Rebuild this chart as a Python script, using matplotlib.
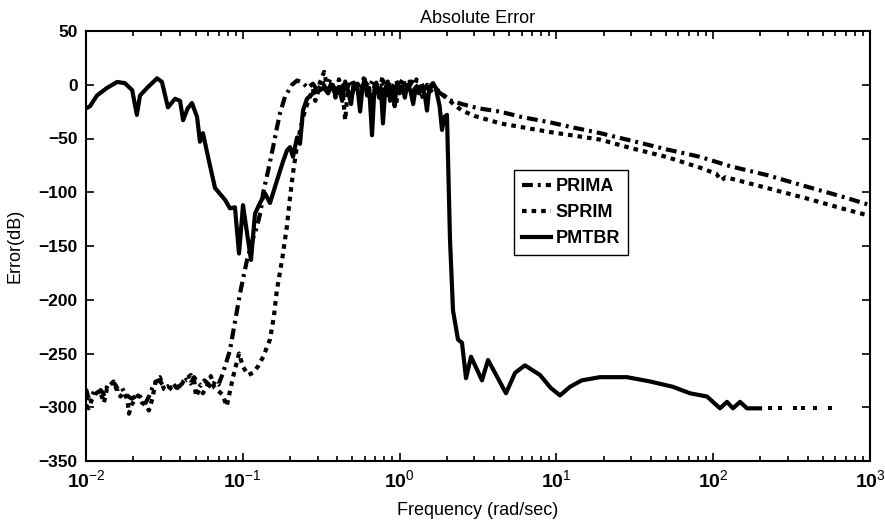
# Absolute error of the reduced models vs. frequency
import matplotlib
matplotlib.use('Agg')
import matplotlib.pyplot as plt
import numpy as np

plt.rcParams['font.family'] = ['Liberation Sans', 'DejaVu Sans']
plt.rcParams['mathtext.fontset'] = 'custom'
plt.rcParams['mathtext.rm'] = 'Liberation Sans'
plt.rcParams['mathtext.bf'] = 'Liberation Sans:bold'

# PRIMA (dash-dot)
prima_f = [0.0100, 0.0104, 0.0108, 0.0113, 0.0118, 0.0124, 0.0130, 0.0137, 0.0144, 0.0152,
           0.0160, 0.0168, 0.0177, 0.0186, 0.0196, 0.0206, 0.0217, 0.0228, 0.0240, 0.0252,
           0.0265, 0.0279, 0.0293, 0.0308, 0.0324, 0.0341, 0.0359, 0.0378, 0.0398, 0.0419,
           0.0441, 0.0464, 0.0489, 0.0514, 0.0541, 0.0569, 0.0599, 0.0631, 0.0664, 0.0700,
           0.0748, 0.0828, 0.0960, 0.1064, 0.115, 0.123, 0.130, 0.135, 0.145, 0.156,
           0.165, 0.173, 0.186, 0.206, 0.222,
           0.24, 0.26, 0.28, 0.30, 0.32, 0.34, 0.36, 0.38, 0.40, 0.42, 0.45, 0.48, 0.51, 0.54,
           0.57, 0.60, 0.64, 0.68, 0.72, 0.76, 0.80, 0.85, 0.90, 0.95, 1.0, 1.06, 1.12, 1.2,
           1.28, 1.36, 1.45, 1.55, 1.65, 1.75, 1.9, 2.04,
           2.5, 3.2, 4.37, 6.0, 9.1, 13, 19, 30, 50, 82, 130, 220, 400, 700, 1000]
prima_db = [-283, -292, -290, -285, -287, -284, -288, -280, -277, -278,
            -283, -281, -287, -290, -292, -290, -288, -293, -296, -290,
            -282, -276, -275, -279, -281, -280, -278, -282, -280, -276,
            -274, -278, -272, -277, -280, -275, -278, -282, -276, -279,
            -268, -247, -194, -163, -145, -132, -118, -100, -80, -58,
            -40, -26, -11, 0, 4,
            2, -3, 1, -6, 3, -4, 5, -2, -8, 2, -3, 4, -5, 1,
            -7, 3, -2, 5, -4, 2, -6, 3, -1, 4, -3, 2, -5, 3,
            -2, 2, -4, 1, -3, -6, -10, -14,
            -18, -22, -25, -30, -35, -40, -45, -52, -60, -67, -76, -84, -95, -105, -112]

# SPRIM (dotted)
sprim_f = [0.0100, 0.0104, 0.0109, 0.0114, 0.0121, 0.0127, 0.0130, 0.0136, 0.0143, 0.0150,
           0.0158, 0.0166, 0.0175, 0.0184, 0.0188, 0.0195, 0.0205, 0.0215, 0.0228, 0.0241,
           0.0252, 0.0265, 0.0280, 0.0296, 0.0314, 0.0333, 0.0352, 0.0372, 0.0394, 0.0417,
           0.0441, 0.0466, 0.0491, 0.0503, 0.0530, 0.0557, 0.0590, 0.0625, 0.0660, 0.0700,
           0.0740, 0.0790, 0.0866, 0.0946, 0.1000, 0.108, 0.116, 0.125, 0.135, 0.149,
           0.158, 0.165, 0.178, 0.191, 0.200, 0.209, 0.220, 0.232, 0.249, 0.268,
           0.28, 0.29, 0.30, 0.31, 0.33, 0.35, 0.37, 0.39, 0.41, 0.43, 0.45, 0.47, 0.50,
           0.53, 0.56, 0.59, 0.62, 0.66, 0.70, 0.74, 0.78, 0.82, 0.86, 0.90, 0.95, 1.0,
           1.05, 1.10, 1.16, 1.22, 1.28, 1.35, 1.42, 1.50, 1.58, 1.66, 1.75, 1.85,
           2.0, 2.2, 2.5, 3.0, 4.4, 9.1, 19, 30, 50, 82, 105, 112, 120, 220, 400, 700, 1000]
sprim_db = [-298, -301, -293, -288, -285, -291, -296, -283, -279, -276,
            -285, -290, -286, -294, -306, -298, -293, -289, -296, -298,
            -303, -292, -274, -272, -283, -285, -281, -279, -283, -276,
            -273, -270, -276, -290, -283, -287, -280, -271, -282, -285,
            -288, -299, -272, -250, -262, -270, -268, -262, -253, -237,
            -215, -191, -163, -132, -105, -82, -60, -42, -24, -11,
            -4, -15, -8, 2, 12, -6, 3, -12, 5, -2, -33, 0, -8,
            4, -10, 6, -4, -15, 3, -7, 8, -12, 2, -5, -18, 0,
            6, -6, 3, -10, 5, -2, -15, 0, -6, -2, -5, -8,
            -12, -18, -24, -29, -36, -44, -51, -59, -67, -77, -83, -89, -86, -96, -106, -116, -122]

# PMTBR (solid)
pmtbr_f = [0.0100, 0.0106, 0.01175, 0.0136, 0.0158, 0.0177, 0.0197, 0.0211, 0.0221, 0.0245,
           0.0284, 0.0305, 0.0333, 0.0370, 0.0398, 0.0416, 0.0445, 0.0474, 0.0511, 0.0533,
           0.0557, 0.0600, 0.0665, 0.0720, 0.0770, 0.0828, 0.0891, 0.0946, 0.1003, 0.1064,
           0.1128, 0.1196, 0.1287, 0.1386, 0.1491, 0.1652, 0.180, 0.1914, 0.200, 0.209,
           0.2217, 0.2317, 0.242, 0.2567, 0.2804, 0.3107,
           0.33, 0.35, 0.37, 0.39, 0.41, 0.43, 0.45, 0.47, 0.49, 0.51, 0.54, 0.56, 0.58,
           0.60, 0.62, 0.64, 0.667, 0.69, 0.71, 0.74, 0.76, 0.783, 0.81, 0.84, 0.87, 0.90,
           0.93, 0.96, 1.0, 1.04, 1.08, 1.12, 1.17, 1.22, 1.27, 1.33, 1.40, 1.45, 1.495,
           1.55, 1.633, 1.70, 1.80, 1.864, 1.93, 2.005,
           2.096, 2.191, 2.357, 2.500, 2.652, 2.854, 3.354, 3.663, 4.2, 4.77, 5.45, 6.30,
           7.86, 9.2, 10.54, 12.21, 14.5, 18.97, 28.2, 39.5, 55.4, 71.1, 91.3, 110.5,
           122.4, 133.7, 148.3, 164.3, 198.9]
pmtbr_db = [-22, -20, -10, -3, 2.6, 1.5, -5, -28, -10, -3,
            6, 2.6, -21, -13, -15, -33, -22, -17, -30, -53,
            -45, -67, -96, -102, -107, -115, -114, -157, -112, -138,
            -163, -120, -110, -101, -110, -89, -72, -61, -58, -67,
            -49, -55, -24, -13, -8, -5,
            -3, -8, 0, -10, -2, -15, 3, -6, -18, 2, -4, -25, -2,
            5, -10, -3, -47, -5, 2, -12, -3, -36, -4, 3, -15, -2,
            -20, 1, -8, -2, -12, 0, -5, -18, -2, -8, -3, -10, -24,
            -2, 1.5, -3, -20, -42, -30, -28,
            -144, -210, -237, -240, -273, -253, -275, -256, -272, -287, -268, -261,
            -270, -282, -289, -281, -275, -272, -272, -276, -281, -287, -290, -301,
            -295, -301, -295, -301, -301]

# isolated points at the end of the PMTBR curve
pmtbr_tail_f = [230, 267, 332, 374, 446, 556]
pmtbr_tail_db = [-301, -301, -301, -301, -301, -301]

xtick_pos = [1e-2, 1e-1, 1e0, 1e1, 1e2, 1e3]
xtick_lab = [r'$\mathbf{10}^{\mathrm{-2}}$', r'$\mathbf{10}^{\mathrm{-1}}$', r'$\mathbf{10}^{\mathrm{0}}$',
             r'$\mathbf{10}^{\mathrm{1}}$', r'$\mathbf{10}^{\mathrm{2}}$', r'$\mathbf{10}^{\mathrm{3}}$']
ytick_pos = np.arange(-350, 51, 50)
ytick_lab = [str(v).replace('-', '\u2212') for v in ytick_pos]

fig = plt.figure(figsize=(8.85, 5.21), dpi=100)
ax = fig.add_axes([86/885, 1-461/521, 784/885, 430/521])

lw = 3.0
ax.semilogx(prima_f, prima_db, color='k', lw=lw, dashes=(2.6, 1.2, 0.7, 1.2), label='PRIMA')
ax.semilogx(sprim_f, sprim_db, color='k', lw=lw, dashes=(1.1, 1.2), label='SPRIM')
ax.semilogx(pmtbr_f, pmtbr_db, color='k', lw=lw, label='PMTBR')
ax.plot(pmtbr_tail_f, pmtbr_tail_db, 's', color='k', ms=3.2, mew=0)

ax.set_xlim(1e-2, 1e3)
ax.set_ylim(-350, 50)
ax.set_xticks(xtick_pos)
ax.set_xticklabels(xtick_lab, fontsize=14)
ax.set_yticks(ytick_pos)
ax.set_yticklabels(ytick_lab, fontsize=12.5, fontweight='bold')
ax.tick_params(which='both', direction='in', top=True, right=True, width=1.2)
ax.tick_params(which='major', length=6, pad=6)
ax.tick_params(which='minor', length=3.5)
for s in ax.spines.values():
    s.set_linewidth(1.5)

ax.set_title('Absolute Error', fontsize=13, pad=6)
ax.set_xlabel('Frequency (rad/sec)', fontsize=13, labelpad=7)
ax.set_ylabel('Error(dB)', fontsize=13)
ax.yaxis.set_label_coords(-0.08, 0.5)

leg = ax.legend(loc='upper left', bbox_to_anchor=(0.546, 0.677), borderaxespad=0,
                prop={'weight': 'bold', 'size': 13}, fancybox=False, framealpha=1,
                edgecolor='k', handlelength=1.6, handletextpad=0.25, labelspacing=0.5,
                borderpad=0.45)
leg.get_frame().set_linewidth(1.0)

fig.savefig('out.png', dpi=100)
